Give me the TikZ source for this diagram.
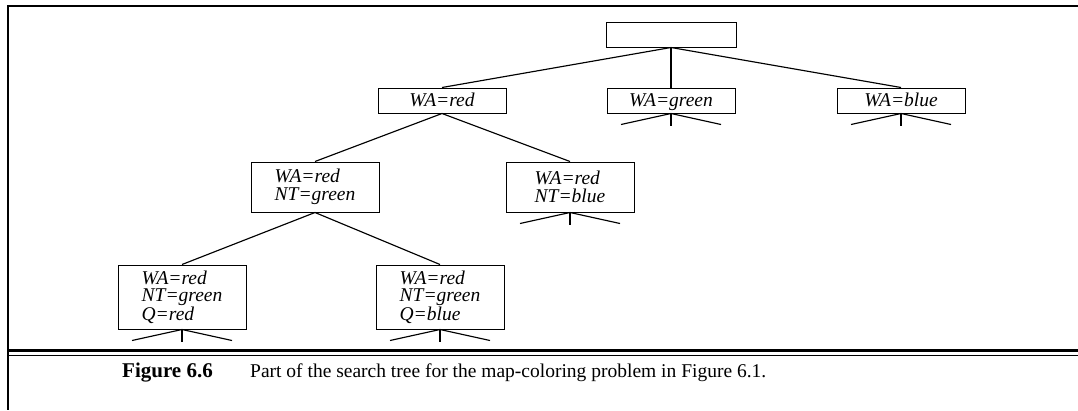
\documentclass[tikz,border=0pt]{standalone}
\usepackage{fontspec}
\setmainfont{Liberation Serif}
\usetikzlibrary{calc}
\begin{document}
\begin{tikzpicture}[x=1pt,y=-1pt,
  tbox/.style={draw,line width=1pt,minimum width=128pt,inner sep=0pt,align=left,
    font=\fontsize{19.5}{17.5}\selectfont\itshape},
  one/.style={tbox,minimum height=25pt,text height=14pt,text depth=2.5pt},
  edge/.style={line width=1.15pt},
  frame/.style={line width=2.8pt}]
\useasboundingbox (0,0) rectangle (1078,410);
% frame
\coordinate (ftl) at (8,6);
\coordinate (ftr) at (1078,6);
\coordinate (fbl) at (8,410);
\coordinate (d1l) at (8,350);
\coordinate (d1r) at (1078,350);
\coordinate (d2l) at (8,355.5);
\coordinate (d2r) at (1078,355.5);
\draw[frame] (ftr) -- (ftl) -- (fbl);
\draw[line width=3pt] (d1l) -- (d1r);
\draw[line width=1.3pt] (d2l) -- (d2r);
% nodes
\node[tbox,minimum width=130pt,minimum height=25pt] (root) at (671,34.5) {};
\node[one] (red) at (442,100.5) {WA=red};
\node[one] (green) at (671,100.5) {WA=green};
\node[one] (blue) at (901,100.5) {WA=blue};
\node[tbox,minimum height=50pt] (rg) at (315,187) {WA=red\\NT=green};
\node[tbox,minimum height=50pt] (rb) at (570,187) {WA=red\\NT=blue};
\node[tbox,minimum height=64pt] (rgr) at (182,297) {WA=red\\NT=green\\Q=red};
\node[tbox,minimum height=64pt] (rgb) at (440,297) {WA=red\\NT=green\\Q=blue};
% edges
\draw[edge] (root.south) -- (red.north);
\draw[edge] (root.south) -- (green.north);
\draw[edge] (root.south) -- (blue.north);
\draw[edge] (red.south) -- (rg.north);
\draw[edge] (red.south) -- (rb.north);
\draw[edge] (rg.south) -- (rgr.north);
\draw[edge] (rg.south) -- (rgb.north);
% stubs
\foreach \n in {green,blue,rb,rgr,rgb}{
  \coordinate (\n-l) at ($(\n.south)+(-50,11)$);
  \coordinate (\n-m) at ($(\n.south)+(0,12)$);
  \coordinate (\n-r) at ($(\n.south)+(50,11)$);
  \draw[edge] (\n.south) -- (\n-l);
  \draw[edge] (\n.south) -- (\n-m);
  \draw[edge] (\n.south) -- (\n-r);
}
% caption
\node[anchor=base west,inner sep=0pt,font=\fontsize{21}{24}\selectfont\bfseries] (fig) at (122,377) {Figure 6.6};
\node[anchor=base west,inner sep=0pt,font=\fontsize{19.5}{22}\selectfont] (cap) at (250,377) {Part of the search tree for the map-coloring problem in Figure 6.1.};
\end{tikzpicture}
\end{document}
